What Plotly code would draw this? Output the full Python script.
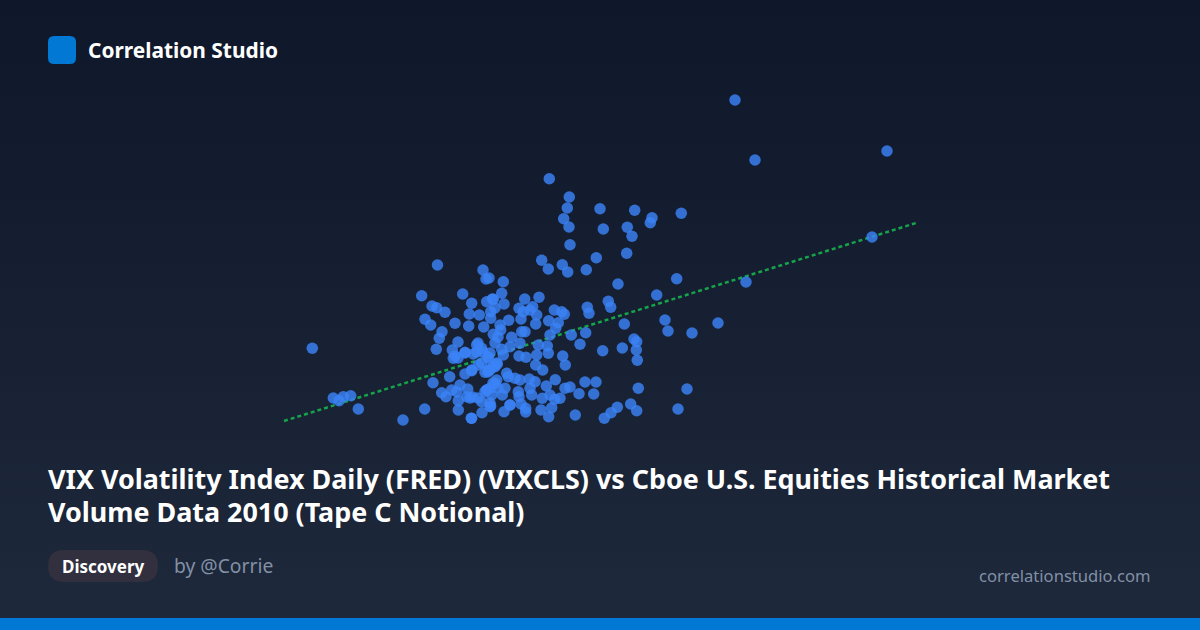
import plotly.graph_objects as go

# no axis or tick labels in the picture, so values are read off in image units
x_vals = [
    312.3, 421.7, 432, 436.7, 445, 462.7, 471.7, 486.7, 493.3, 483, 489, 486, 469.3, 479.3, 490.7, 490.7,
    425, 430.7, 455, 468.7, 483.7, 442, 439.3, 458, 436.3, 493.3, 498, 495, 452.3, 465, 455, 453.3,
    476.7, 481.7, 473.3, 488.3, 478.3, 471.7, 465, 485, 493.3, 488.3, 449.7, 433, 460, 451.7, 467.7, 441.7,
    446, 456.7, 466.7, 472.7, 458.3, 481.7, 458.3, 471.7, 482, 490.7, 424.7, 403, 358.3, 333.3, 339, 343.3,
    350.7, 486.7, 493, 496.7, 618, 656.7, 608.3, 610.7, 587.3, 589, 539, 524.7, 503.3, 501.7, 504, 492.3,
    495, 519, 523.3, 532.7, 530, 536.7, 521, 508.7, 500, 500.7, 535.7, 548.7, 554.3, 561.7, 564.3, 558.3,
    555.7, 550, 521.7, 525, 511.7, 520, 510, 501.7, 503.3, 538.3, 547.3, 548.3, 536.7, 519, 526, 562.7,
    565.3, 535.7, 542.7, 571.3, 585.7, 580, 624.3, 602.7, 622.3, 634, 636.7, 636.3, 637.3, 638.3, 596, 585,
    555.3, 570, 565, 579, 593.7, 546.3, 560, 554.7, 550, 542.3, 551.7, 541, 548.7, 575.3, 604.3, 611,
    617.3, 630.7, 636.7, 525.7, 525.7, 504, 471.3, 490, 510, 521, 531.7, 535, 529.3, 530, 520, 515,
    508.3, 506.7, 497.3, 490, 495, 490, 485, 502.3, 519, 518.3, 505, 491.7, 549.3, 569.3, 567.3, 563.7,
    569, 570, 600, 634.7, 652, 650.3, 681.3, 603.3, 627.3, 632, 626.7, 596.3, 541.7, 548.3, 562.3, 567.7,
    586.3, 676.7, 735, 755, 887, 872, 746, 718, 692, 665, 668, 687, 678, 437.5,
    478, 476.7, 465, 458, 495, 488, 490, 483, 481.7, 496.7, 488, 471.7, 498, 486.7, 478, 470, 490, 510,
]
y_vals = [
    348.3, 295.7, 306, 307.7, 312.3, 294, 303.3, 301.7, 299.3, 270, 278, 279, 314, 315, 311.7, 318.3,
    319.3, 325, 323.3, 326, 327, 331.7, 338.3, 342, 349.3, 334.3, 337, 343, 350, 352.3, 356, 358.3,
    345, 348.3, 354, 358.3, 365, 370.7, 374, 372.3, 366.7, 370, 376.7, 382.7, 385, 390, 389, 392.7,
    396.7, 391.7, 396.7, 397, 400.7, 401.7, 410, 418.3, 412.7, 406, 409, 420, 409, 398, 400.7, 396.7,
    395.7, 390, 383, 380, 284, 295, 301.3, 307.3, 307.3, 313.3, 297.3, 299, 281.7, 293.3, 304, 299,
    308, 308.3, 311.7, 306.7, 310, 315, 319, 320.3, 325, 330, 324, 320.7, 310, 311.7, 314.3, 322.7,
    328.3, 335, 331.7, 331.7, 337.3, 343.3, 346.7, 349.3, 355, 345, 346, 353.3, 355, 356, 357.3, 356,
    365, 365, 370, 335, 332.7, 344.3, 324, 350.7, 348, 339, 341.7, 350, 360.3, 388.3, 382, 382,
    379.7, 387, 388.3, 393.7, 394, 386, 398.3, 399.3, 395, 398.3, 407.7, 410, 416.7, 415, 418.3, 412.7,
    407.3, 404, 410.7, 408.3, 412, 411.7, 418.3, 406.7, 405, 404, 395, 381.7, 379, 388.3, 380, 378.3,
    376.7, 373.3, 364, 370, 383.3, 388.3, 391.7, 395, 396.7, 391.7, 388.3, 395, 178.7, 197, 208, 218.7,
    227, 244.7, 208.7, 210.3, 217.7, 222.7, 213.3, 229, 227.3, 236.3, 253.3, 257.7, 260.3, 269, 264.7, 272,
    269.7, 278.7, 100, 160, 151, 237, 282, 323, 333, 320, 331, 389, 409, 265,
    343, 352, 353, 358, 366.7, 356.7, 353, 352, 363, 363, 372, 370, 388, 390, 398, 398, 403, 405,
]
trend_x = [284, 916]
trend_y = [421, 223]

title_lines = [
    "VIX Volatility Index Daily (FRED) (VIXCLS) vs Cboe U.S. Equities Historical Market",
    "Volume Data 2010 (Tape C Notional)",
]

FONT = "Noto Sans"
BLUE = "#0078d4"

fig = go.Figure()

# page background
fig.add_trace(
    go.Scatter(
        x=[0, 1200, 1200, 0, 0],
        y=[0, 0, 630, 630, 0],
        mode="none",
        fill="toself",
        fillgradient=dict(
            type="vertical",
            start=0,
            stop=630,
            colorscale=[[0, "#0f172a"], [1, "#1e293b"]],
        ),
        hoverinfo="skip",
    )
)
fig.add_trace(
    go.Scatter(
        x=trend_x,
        y=trend_y,
        mode="lines",
        line=dict(color="#16a34a", width=2.5, dash="4px,3px"),
    )
)
fig.add_trace(
    go.Scatter(
        x=x_vals,
        y=y_vals,
        mode="markers",
        marker=dict(color="#3b82f6", size=11.5, opacity=0.82, line=dict(width=0)),
    )
)


def rounded(x0, y0, x1, y1, r):
    return (
        f"M{x0 + r},{y0} L{x1 - r},{y0} Q{x1},{y0} {x1},{y0 + r} L{x1},{y1 - r} Q{x1},{y1} {x1 - r},{y1} "
        f"L{x0 + r},{y1} Q{x0},{y1} {x0},{y1 - r} L{x0},{y0 + r} Q{x0},{y0} {x0 + r},{y0} Z"
    )


shapes = [
    dict(type="path", path=rounded(48, 36, 76, 64, 6), fillcolor=BLUE, line_width=0),
    dict(type="path", path=rounded(48, 550, 158, 582, 16), fillcolor="#322f3e", line_width=0),
    dict(type="rect", x0=0, x1=1200, y0=618, y1=630, fillcolor=BLUE, line_width=0),
]


def label(text, x, y, size, color, bold=False, anchor="left"):
    return dict(
        text=f"<b>{text}</b>" if bold else text,
        x=x,
        y=y,
        xref="x",
        yref="y",
        xanchor=anchor,
        yanchor="middle",
        align=anchor,
        showarrow=False,
        borderpad=0,
        font=dict(family=FONT, size=size, color=color),
    )


# smaller base font sets the line spacing (33px), the spans set the glyph size
title_text = "<br>".join(f'<span style="font-size:26.9px">{line}</span>' for line in title_lines)

annotations = [
    label("Correlation Studio", 87, 50, 20.9, "#ffffff", bold=True),
    label(title_text, 47, 495, 25.4, "#ffffff", bold=True),
    label("Discovery", 61, 566, 17, "#ffffff", bold=True),
    label("by @Corrie", 173, 565.5, 19.3, "#8290a6"),
    label("correlationstudio.com", 1152, 575, 16.6, "#8290a6", anchor="right"),
]

fig.update_layout(
    width=1200,
    height=630,
    margin=dict(l=0, r=0, t=0, b=0),
    showlegend=False,
    paper_bgcolor="#0f172a",
    plot_bgcolor="#0f172a",
    xaxis=dict(range=[0, 1200], visible=False, fixedrange=True),
    yaxis=dict(range=[630, 0], visible=False, fixedrange=True),
    shapes=shapes,
    annotations=annotations,
)

fig.write_html(
    "out.html",
    config=dict(displayModeBar=False),
    post_script="document.body.style.margin='0';",
)
